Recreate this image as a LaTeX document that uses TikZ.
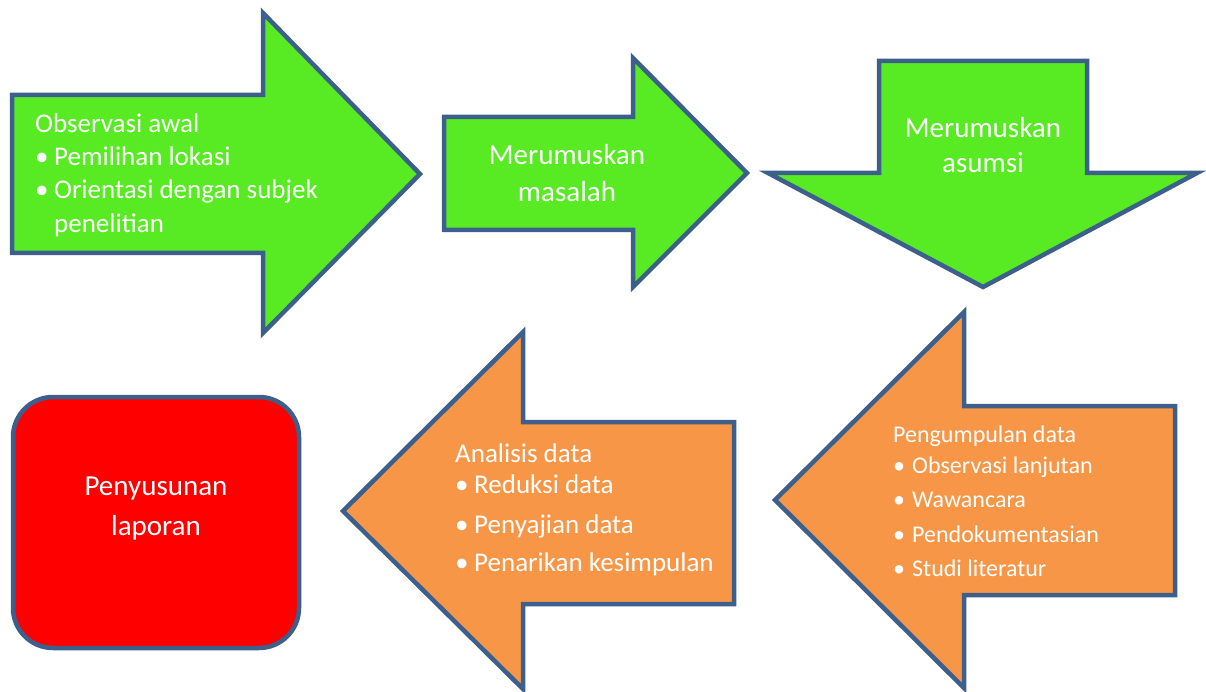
\documentclass[tikz,border=0pt]{standalone}
\usepackage{fontspec}
\setmainfont{Carlito}
\usepackage{tikz}

\definecolor{arrowgreen}{RGB}{88,235,36}
\definecolor{arroworange}{RGB}{247,150,70}
\definecolor{edgeblue}{RGB}{60,95,140}

\newcommand{\itm}{\makebox[19pt][l]{\textbullet}}

\tikzset{
  outline/.style={draw=edgeblue, line width=4.5pt, line join=miter},
  greenshape/.style={outline, fill=arrowgreen},
  orangeshape/.style={outline, fill=arroworange},
  bigtxt/.style={text=white, inner sep=0pt, anchor=base, font=\fontsize{29}{35}\selectfont},
  listtxt/.style={text=white, inner sep=0pt, anchor=base west, font=\fontsize{27}{33}\selectfont},
  smalltxt/.style={text=white, inner sep=0pt, anchor=base west, font=\fontsize{24}{30}\selectfont},
}

\begin{document}
\begin{tikzpicture}[x=1pt,y=-1pt]
\useasboundingbox (0,0) rectangle (1206,692);

\path
 (12,95)    coordinate (A1)
 (263,95)   coordinate (A2)
 (263,13)   coordinate (A3)
 (420,174)  coordinate (A4)
 (263,333)  coordinate (A5)
 (263,253)  coordinate (A6)
 (12,253)   coordinate (A7)
 (444,117)  coordinate (B1)
 (633,117)  coordinate (B2)
 (633,58)   coordinate (B3)
 (747,173)  coordinate (B4)
 (633,287)  coordinate (B5)
 (633,230)  coordinate (B6)
 (444,230)  coordinate (B7)
 (879,61)   coordinate (C1)
 (1087,61)  coordinate (C2)
 (1087,173) coordinate (C3)
 (1197,173) coordinate (C4)
 (983,287)  coordinate (C5)
 (768,173)  coordinate (C6)
 (879,173)  coordinate (C7)
 (1175,406) coordinate (D1)
 (964,406)  coordinate (D2)
 (964,312)  coordinate (D3)
 (775,500)  coordinate (D4)
 (964,688)  coordinate (D5)
 (964,595)  coordinate (D6)
 (1175,595) coordinate (D7)
 (734,422)  coordinate (E1)
 (523,422)  coordinate (E2)
 (523,332)  coordinate (E3)
 (343,511)  coordinate (E4)
 (523,689)  coordinate (E5)
 (523,604)  coordinate (E6)
 (734,604)  coordinate (E7)
;

\draw[greenshape]  (A1) -- (A2) -- (A3) -- (A4) -- (A5) -- (A6) -- (A7) -- cycle;
\draw[greenshape]  (B1) -- (B2) -- (B3) -- (B4) -- (B5) -- (B6) -- (B7) -- cycle;
\draw[greenshape]  (C1) -- (C2) -- (C3) -- (C4) -- (C5) -- (C6) -- (C7) -- cycle;
\draw[orangeshape] (D1) -- (D2) -- (D3) -- (D4) -- (D5) -- (D6) -- (D7) -- cycle;
\draw[orangeshape] (E1) -- (E2) -- (E3) -- (E4) -- (E5) -- (E6) -- (E7) -- cycle;
\draw[outline, fill=red, rounded corners=40pt] (13,397) rectangle (299,648);

\node[listtxt] (obs1) at (35,133) {Observasi awal};
\node[listtxt] (obs2) at (35,166) {\itm Pemilihan lokasi};
\node[listtxt] (obs3) at (35,199) {\itm Orientasi dengan subjek};
\node[listtxt] (obs4) at (54,233) {penelitian};

\node[bigtxt] (mas1) at (567,165) {Merumuskan};
\node[bigtxt] (mas2) at (567,202) {masalah};

\node[bigtxt] (asu1) at (983,138) {Merumuskan};
\node[bigtxt] (asu2) at (983,173) {asumsi};

\node[smalltxt] (pen1) at (893,442) {Pengumpulan data};
\node[smalltxt] (pen2) at (893,473) {\itm Observasi lanjutan};
\node[smalltxt] (pen3) at (893,507) {\itm Wawancara};
\node[smalltxt] (pen4) at (893,542) {\itm Pendokumentasian};
\node[smalltxt] (pen5) at (893,576) {\itm Studi literatur};

\node[listtxt] (ana1) at (455,462) {Analisis data};
\node[listtxt] (ana2) at (455,493) {\itm Reduksi data};
\node[listtxt] (ana3) at (455,533) {\itm Penyajian data};
\node[listtxt] (ana4) at (455,571) {\itm Penarikan kesimpulan};

\node[bigtxt] (lap1) at (156,495) {Penyusunan};
\node[bigtxt] (lap2) at (156,535) {laporan};
\end{tikzpicture}
\end{document}
